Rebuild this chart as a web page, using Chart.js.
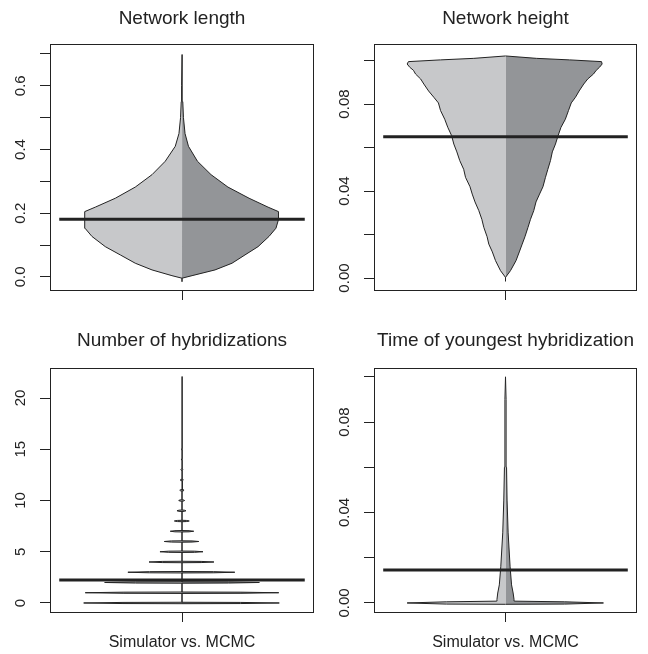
<!DOCTYPE html>
<html>
<head>
<meta charset="utf-8">
<script src="https://cdn.jsdelivr.net/npm/chart.js"></script>
<style>
  html, body { margin: 0; padding: 0; background: #fff; }
  #wrap { position: relative; width: 648px; height: 654px; }
  #wrap canvas { position: absolute; }
</style>
</head>
<body>
<div id="wrap">
  <canvas id="c1" width="324" height="300" style="left:0;top:0"></canvas>
  <canvas id="c2" width="324" height="300" style="left:324px;top:0"></canvas>
  <canvas id="c3" width="324" height="354" style="left:0;top:300px"></canvas>
  <canvas id="c4" width="324" height="354" style="left:324px;top:300px"></canvas>
</div>
<script>
// --- data (widths = half-width of each bean side, in axis units) ---

// Network length
const lenY     = [-0.015, -0.004, 0.004, 0.022, 0.043, 0.069, 0.095, 0.127, 0.153, 0.18, 0.205, 0.219, 0.247, 0.282, 0.321, 0.363, 0.41, 0.45, 0.5, 0.55, 0.6, 0.698];
const lenLeft  = [0, 0, 0.076, 0.227, 0.354, 0.467, 0.581, 0.682, 0.735, 0.739, 0.735, 0.657, 0.505, 0.354, 0.227, 0.127, 0.051, 0.023, 0.011, 0.006, 0.003, 0];
const lenRight = [0, 0, 0.076, 0.25, 0.379, 0.477, 0.576, 0.659, 0.712, 0.731, 0.731, 0.652, 0.508, 0.348, 0.22, 0.117, 0.049, 0.023, 0.011, 0.006, 0.003, 0];
const lenMean  = 0.181;
const lenTicks = [0, 0.1, 0.2, 0.3, 0.4, 0.5, 0.6, 0.7];
const lenTickLabels = ['0.0', '', '0.2', '', '0.4', '', '0.6', ''];

// Network height
const hgtY     = [-0.0015, 0.0003, 0.0034, 0.008, 0.012, 0.0156, 0.019, 0.0233, 0.027, 0.031, 0.035, 0.0386, 0.042, 0.0463, 0.05, 0.054, 0.058, 0.0616, 0.0655, 0.0693, 0.073, 0.077, 0.0805, 0.0831, 0.086, 0.0892, 0.0915, 0.0938, 0.0955, 0.0969, 0.0984, 0.0995, 0.1003, 0.101, 0.1021];
const hgtLeft  = [0, 0, 0.038, 0.076, 0.1, 0.127, 0.14, 0.165, 0.18, 0.203, 0.232, 0.253, 0.27, 0.304, 0.318, 0.348, 0.37, 0.393, 0.41, 0.439, 0.462, 0.494, 0.51, 0.545, 0.585, 0.621, 0.645, 0.684, 0.7, 0.728, 0.748, 0.738, 0.494, 0.241, 0];
const hgtRight = [0, 0, 0.038, 0.08, 0.105, 0.127, 0.148, 0.171, 0.19, 0.215, 0.232, 0.259, 0.285, 0.304, 0.322, 0.342, 0.356, 0.38, 0.4, 0.422, 0.455, 0.479, 0.5, 0.532, 0.56, 0.595, 0.625, 0.669, 0.69, 0.715, 0.735, 0.73, 0.487, 0.236, 0];
const hgtMean  = 0.065;
const hgtTicks = [0, 0.02, 0.04, 0.06, 0.08, 0.10];
const hgtTickLabels = ['0.00', '', '0.04', '', '0.08', ''];

// Number of hybridizations (discrete: one thin bean per count)
const hybCounts = [0, 1, 2, 3, 4, 5, 6, 7, 8, 9, 10, 11, 12, 13, 14, 15];
const hybLeft   = [0.745, 0.733, 0.586, 0.41, 0.25, 0.167, 0.134, 0.089, 0.058, 0.038, 0.025, 0.017, 0.013, 0.01, 0.005, 0.004];
const hybRight  = [0.737, 0.733, 0.586, 0.40, 0.242, 0.159, 0.127, 0.089, 0.055, 0.03, 0.02, 0.015, 0.011, 0.008, 0.005, 0.004];
const hybMax    = 22.1;
const hybMean   = 2.24;
const hybTicks  = [0, 5, 10, 15, 20];
const hybTickLabels = ['0', '5', '10', '15', '20'];

// Time of youngest hybridization
const youY     = [-0.0006, -0.0005, 0, 0.0005, 0.0008, 0.0015, 0.0044, 0.008, 0.016, 0.031, 0.0455, 0.06, 0.075, 0.09, 0.1];
const youLeft  = [0, 0.45, 0.748, 0.45, 0.068, 0.065, 0.059, 0.047, 0.036, 0.021, 0.013, 0.008, 0.005, 0.004, 0];
const youRight = [0, 0.45, 0.745, 0.45, 0.068, 0.065, 0.058, 0.046, 0.035, 0.02, 0.012, 0.008, 0.005, 0.004, 0];
const youMean  = 0.0146;
const youTicks = [0, 0.02, 0.04, 0.06, 0.08, 0.10];
const youTickLabels = ['0.00', '', '0.04', '', '0.08', ''];

// --- drawing ---
const ink = '#222';
const lightGrey = '#c7c8ca';
const darkGrey = '#939598';
const family = "'Liberation Sans', Arial, Helvetica, sans-serif";
const tickSize = 15;
Chart.defaults.font.family = family;
Chart.defaults.color = ink;

function side(ys, ws, sign) {
  return ys.map((y, i) => ({ x: sign * ws[i], y: y }));
}

// thin bar with pointed ends at every count, joined along the centre line
function lensSide(counts, ws, sign, top) {
  const eps = 0.07;
  const pts = [];
  counts.forEach((k, i) => {
    const w = sign * ws[i];
    pts.push({ x: 0, y: k - eps }, { x: 0.6 * w, y: k - 0.8 * eps }, { x: w, y: k },
             { x: 0.6 * w, y: k + 0.8 * eps }, { x: 0, y: k + eps });
  });
  pts.push({ x: 0, y: top });
  return pts;
}

const measure = document.createElement('canvas').getContext('2d');
measure.font = tickSize + 'px ' + family;

const frame = {
  id: 'frame',
  afterDatasetsDraw(chart) {
    const { ctx, chartArea: a } = chart;
    ctx.save();
    ctx.strokeStyle = ink;
    ctx.lineWidth = 1;
    ctx.strokeRect(Math.round(a.left) + 0.5, Math.round(a.top) + 0.5,
                   Math.round(a.right - a.left) - 1, Math.round(a.bottom - a.top));
    ctx.restore();
  }
};

function panel(id, p) {
  const widest = Math.max(...p.labels.map(l => measure.measureText(l).width));
  new Chart(document.getElementById(id), {
    type: 'line',
    data: {
      datasets: [
        { data: [{ x: -0.93, y: p.mean }, { x: 0.93, y: p.mean }], borderColor: ink, borderWidth: 3, fill: false },
        { data: p.left, backgroundColor: lightGrey, borderColor: ink, borderWidth: 1, fill: 'shape' },
        { data: p.right, backgroundColor: darkGrey, borderColor: ink, borderWidth: 1, fill: 'shape' }
      ]
    },
    options: {
      responsive: false,
      animation: false,
      events: [],
      elements: {
        point: { radius: 0 },
        line: { tension: 0, borderJoinStyle: 'round' }
      },
      layout: { padding: { left: 0, right: p.padRight, top: 0, bottom: 0 } },
      plugins: {
        legend: { display: false },
        tooltip: { enabled: false },
        title: {
          display: true, text: p.title, fullSize: false, color: ink,
          font: { size: 19, weight: 'normal' },
          padding: p.titlePad
        }
      },
      scales: {
        x: {
          type: 'linear', min: -1, max: 1,
          afterBuildTicks: s => { s.ticks = [{ value: 0 }]; },
          afterFit: s => { s.height = p.xHeight; s.paddingLeft = 0; s.paddingRight = 0; },
          grid: { drawOnChartArea: false, tickLength: 10, color: ink },
          border: { display: false },
          ticks: { display: false },
          title: p.xTitle
            ? { display: true, text: p.xTitle, color: ink, font: { size: 16 }, padding: { top: 0, bottom: 1.6 } }
            : { display: false }
        },
        y: {
          type: 'linear', min: p.min, max: p.max,
          afterBuildTicks: s => { s.ticks = p.ticks.map(v => ({ value: v })); },
          afterFit: s => { s.width = 50; s.paddingTop = 0; s.paddingBottom = 0; },
          grid: { drawOnChartArea: false, tickLength: 10, color: ink },
          border: { display: false },
          ticks: {
            callback: (v, i) => p.labels[i],
            minRotation: 90, maxRotation: 90, crossAlign: 'center',
            padding: 19 - widest / 2,
            color: ink, font: { size: tickSize }
          }
        }
      }
    },
    plugins: [frame]
  });
}

panel('c1', {
  title: 'Network length', titlePad: { top: 7.8, bottom: 13.4 }, padRight: 10, xHeight: 10,
  min: -0.041, max: 0.731, ticks: lenTicks, labels: lenTickLabels, mean: lenMean,
  left: side(lenY, lenLeft, -1), right: side(lenY, lenRight, 1)
});
panel('c2', {
  title: 'Network height', titlePad: { top: 7.8, bottom: 13.4 }, padRight: 11, xHeight: 10,
  min: -0.0055, max: 0.1076, ticks: hgtTicks, labels: hgtTickLabels, mean: hgtMean,
  left: side(hgtY, hgtLeft, -1), right: side(hgtY, hgtRight, 1)
});
panel('c3', {
  title: 'Number of hybridizations', titlePad: { top: 29.4, bottom: 15.8 }, padRight: 10, xHeight: 42,
  xTitle: 'Simulator vs. MCMC',
  min: -0.88, max: 22.93, ticks: hybTicks, labels: hybTickLabels, mean: hybMean,
  left: lensSide(hybCounts, hybLeft, -1, hybMax), right: lensSide(hybCounts, hybRight, 1, hybMax)
});
panel('c4', {
  title: 'Time of youngest hybridization', titlePad: { top: 29.4, bottom: 15.8 }, padRight: 11, xHeight: 42,
  xTitle: 'Simulator vs. MCMC',
  min: -0.004, max: 0.1039, ticks: youTicks, labels: youTickLabels, mean: youMean,
  left: side(youY, youLeft, -1), right: side(youY, youRight, 1)
});
</script>
</body>
</html>
